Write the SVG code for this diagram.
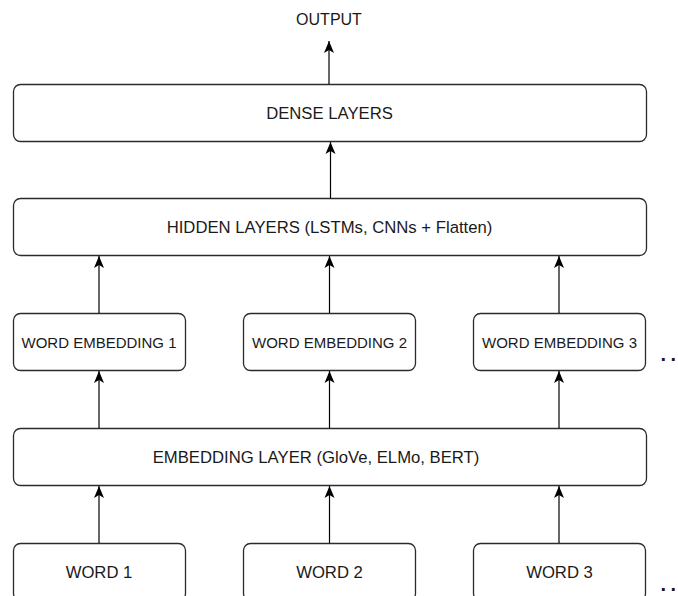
<svg xmlns="http://www.w3.org/2000/svg" width="678" height="596" viewBox="0 0 678 596">
<style>
.box{fill:#ffffff;stroke:#2b2b2b;stroke-width:1.3}
.lbl{font-family:"Liberation Sans",Arial,sans-serif;font-size:16.7px;fill:#1a1a1a;text-anchor:middle}
.out{font-size:16px}
.sm{font-size:15px}
.conn{stroke:#000000;stroke-width:1.2;fill:none;marker-end:url(#arr)}
.dots{font-family:"Liberation Sans",Arial,sans-serif;font-size:20px;font-weight:bold;fill:#1a1a1a}
</style>
<defs>
<marker id="arr" markerUnits="userSpaceOnUse" markerWidth="14" markerHeight="12" viewBox="-13 -6 14 12" refX="0" refY="0" orient="auto">
<path d="M0,0 L-12,-5 L-9,0 L-12,5 Z" fill="#000000"/>
</marker>
</defs>
<rect width="678" height="596" fill="#ffffff"/>
<text class="lbl out" x="329" y="25">OUTPUT</text>
<g id="dense"><rect class="box" x="13.5" y="84.5" width="633" height="57" rx="7"/><text class="lbl" x="329.5" y="119">DENSE LAYERS</text></g>
<g id="hidden"><rect class="box" x="13.5" y="198.5" width="633" height="57" rx="7"/><text class="lbl" x="329.5" y="233">HIDDEN LAYERS (LSTMs, CNNs + Flatten)</text></g>
<g id="we1"><rect class="box" x="13.5" y="313.5" width="172" height="57" rx="7"/><text class="lbl sm" x="99" y="348">WORD EMBEDDING 1</text></g>
<g id="we2"><rect class="box" x="243.5" y="313.5" width="172" height="57" rx="7"/><text class="lbl sm" x="329.5" y="348">WORD EMBEDDING 2</text></g>
<g id="we3"><rect class="box" x="473.5" y="313.5" width="172" height="57" rx="7"/><text class="lbl sm" x="559.5" y="348">WORD EMBEDDING 3</text></g>
<g id="emb"><rect class="box" x="13.5" y="428.5" width="633" height="57" rx="7"/><text class="lbl" x="316" y="463">EMBEDDING LAYER (GloVe, ELMo, BERT)</text></g>
<g id="w1"><rect class="box" x="13.5" y="543.5" width="172" height="57" rx="7"/><text class="lbl" x="99" y="578">WORD 1</text></g>
<g id="w2"><rect class="box" x="243.5" y="543.5" width="172" height="57" rx="7"/><text class="lbl" x="329.5" y="578">WORD 2</text></g>
<g id="w3"><rect class="box" x="473.5" y="543.5" width="172" height="57" rx="7"/><text class="lbl" x="559.5" y="578">WORD 3</text></g>
<text class="dots" x="660.5" y="360.5">.<tspan dx="4.4">.</tspan></text>
<text class="dots" x="660.5" y="590.5">.<tspan dx="4.4">.</tspan></text>
<g id="connectors">
<line class="conn" x1="329" y1="84" x2="329" y2="41"/>
<line class="conn" x1="330.5" y1="198" x2="330.5" y2="142"/>
<line class="conn" x1="99" y1="313" x2="99" y2="256"/>
<line class="conn" x1="329.5" y1="313" x2="329.5" y2="256"/>
<line class="conn" x1="559" y1="313" x2="559" y2="256"/>
<line class="conn" x1="99" y1="428" x2="99" y2="371"/>
<line class="conn" x1="329.5" y1="428" x2="329.5" y2="371"/>
<line class="conn" x1="559" y1="428" x2="559" y2="371"/>
<line class="conn" x1="99" y1="543" x2="99" y2="486"/>
<line class="conn" x1="329.5" y1="543" x2="329.5" y2="486"/>
<line class="conn" x1="559" y1="543" x2="559" y2="486"/>
</g>
</svg>
